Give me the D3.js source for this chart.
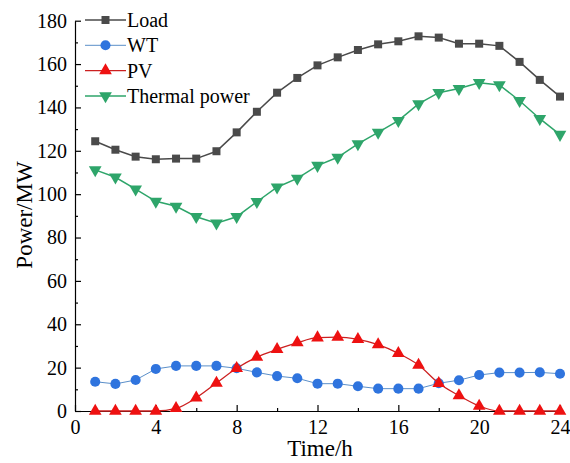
<!DOCTYPE html>
<html><head><meta charset="utf-8">
<script src="https://cdn.jsdelivr.net/npm/d3@7"></script>
<style>body{margin:0;background:#fff}svg{display:block}text{font-family:"Liberation Serif","Times New Roman",serif}</style>
</head><body><svg id="c" width="570" height="463"></svg>
<script>
const hours = d3.range(1, 25);
const load = [124.4,120.5,117.3,116.1,116.4,116.4,119.8,128.5,138,146.8,153.6,159.4,163.1,166.5,169.1,170.5,172.8,172.2,169.4,169.4,168.4,161,152.7,145];
const wt = [13.5,12.5,14.3,19.4,20.8,20.8,20.8,19.7,17.8,16.1,15.1,12.6,12.6,11.4,10.3,10.3,10.3,12.8,14.2,16.6,17.7,17.7,17.8,17.2];
const pv = [0,0,0,0,1.2,6.1,12.9,19.7,24.9,28.4,31.5,33.8,34.1,33,30.6,26.6,21.2,12.8,7.1,2.3,0,0,0,0];
const thermal = [111.2,107.8,102.3,96.7,94.4,89.6,86.6,89.6,96.5,103.2,107.3,113.2,117,123.2,128.5,133.9,141.6,146.8,148.7,151.4,150.4,143.1,134.8,127.5];
const xTicks = [0,4,8,12,16,20,24];
const yTicks = [0,20,40,60,80,100,120,140,160,180];
const seriesNames = ["Load","WT","PV","Thermal power"];

const svg = d3.select("#c");
const x = d3.scaleLinear().domain([0,24]).range([75,560]);
const y = d3.scaleLinear().domain([0,180]).range([411,20.7]);

const series = [
  {name:seriesNames[0], vals:load, color:"#4a4a4a", line:"#4a4a4a", sym:d3.symbolSquare, size:64, rot:0, curve:d3.curveLinear, lw:1.5},
  {name:seriesNames[1], vals:wt, color:"#2f74de", line:"#5b8fc9", sym:d3.symbolCircle, size:80, rot:0, curve:d3.curveLinear, lw:1},
  {name:seriesNames[2], vals:pv, color:"#ee1111", line:"#cc2020", sym:d3.symbolTriangle, size:70, rot:0, curve:d3.curveMonotoneX, lw:1.3},
  {name:seriesNames[3], vals:thermal, color:"#2ea56a", line:"#2ea56a", sym:d3.symbolTriangle, size:70, rot:180, curve:d3.curveLinear, lw:1.5}
];

// axes
const gx = svg.append("g").attr("transform","translate(0,411)")
  .call(d3.axisBottom(x).tickValues(xTicks).tickSizeInner(-6).tickSizeOuter(0).tickPadding(9));
const gxm = svg.append("g").attr("transform","translate(0,411)")
  .call(d3.axisBottom(x).tickValues(d3.range(2,24,4)).tickSize(-3).tickFormat(""));
const gy = svg.append("g").attr("transform","translate(75,0)")
  .call(d3.axisLeft(y).tickValues(yTicks).tickSizeInner(-6).tickSizeOuter(0).tickPadding(8));
const gym = svg.append("g").attr("transform","translate(75,0)")
  .call(d3.axisLeft(y).tickValues(d3.range(10,180,20)).tickSize(-3).tickFormat(""));
[gx,gxm,gy,gym].forEach(g=>{
  g.selectAll("path,line").attr("stroke","#000").attr("stroke-width",1.2);
  g.selectAll("text").attr("font-size",20).attr("fill","#000").attr("font-family","Liberation Serif");
});
gxm.select(".domain").remove(); gym.select(".domain").remove();

svg.append("text").attr("x",320).attr("y",456).attr("text-anchor","middle").attr("font-size",23).text("Time/h");
svg.append("text").attr("transform","translate(32,215) rotate(-90)").attr("text-anchor","middle").attr("font-size",23).text("Power/MW");

// lines + markers
series.forEach(s=>{
  const line = d3.line().x((d,i)=>x(hours[i])).y(d=>y(d)).curve(s.curve);
  svg.append("path").datum(s.vals).attr("d",line).attr("fill","none").attr("stroke",s.line).attr("stroke-width",s.lw);
  svg.append("g").selectAll("path").data(s.vals).join("path")
    .attr("d",d3.symbol().type(s.sym).size(s.size))
    .attr("transform",(d,i)=>`translate(${x(hours[i])},${y(d)}) rotate(${s.rot})`)
    .attr("fill",s.color);
});

// legend
const lg = svg.append("g");
series.forEach((s,i)=>{
  const yy = 20 + i*25.3;
  lg.append("line").attr("x1",85).attr("x2",126).attr("y1",yy).attr("y2",yy).attr("stroke",s.line).attr("stroke-width",s.lw);
  lg.append("path").attr("d",d3.symbol().type(s.sym).size(s.size)).attr("transform",`translate(105.5,${yy}) rotate(${s.rot})`).attr("fill",s.color);
  lg.append("text").attr("x",127).attr("y",yy+7).attr("font-size",20).text(s.name);
});
</script></body></html>
